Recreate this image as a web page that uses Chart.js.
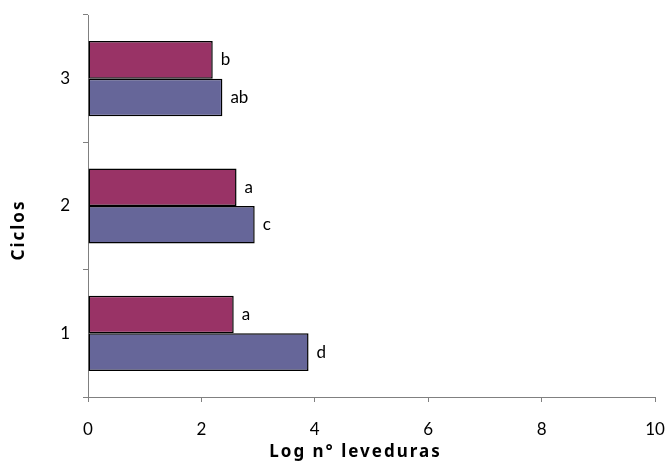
<!DOCTYPE html>
<html>
<head>
<meta charset="utf-8">
<script src="https://cdn.jsdelivr.net/npm/chart.js@4/dist/chart.umd.min.js"></script>
<style>
  html, body { margin: 0; padding: 0; background: #ffffff; }
  #wrap { width: 669px; height: 466px; position: relative; }
</style>
</head>
<body>
<div id="wrap"><canvas id="chart" width="669" height="466"></canvas></div>
<script>
// Cycles (categories) and the log yeast counts for the two treatments
const ciclos = ['1', '2', '3'];
const serieSuperior = [2.57, 2.62, 2.20];   // upper bar of each cycle
const serieInferior = [3.89, 2.94, 2.37];   // lower bar of each cycle
const letrasSuperior = ['a', 'a', 'b'];
const letrasInferior = ['d', 'c', 'ab'];
const xTicks = [0, 2, 4, 6, 8, 10];

const FONT = 'Lato, "Noto Sans", sans-serif';
const TITLE_FONT = '"Noto Sans", Lato, sans-serif';

// Significance letters at the end of each bar, plus spaced axis titles
const barLetters = {
  id: 'barLetters',
  afterDatasetsDraw(chart) {
    const ctx = chart.ctx;
    const letterSets = [letrasSuperior, letrasInferior];
    ctx.save();
    ctx.fillStyle = '#000000';
    ctx.font = '17px ' + FONT;
    ctx.textAlign = 'left';
    ctx.textBaseline = 'middle';
    chart.data.datasets.forEach((ds, di) => {
      const meta = chart.getDatasetMeta(di);
      meta.data.forEach((bar, i) => {
        ctx.fillText(letterSets[di][i], bar.x + 8, bar.y);
      });
    });
    ctx.restore();

    const area = chart.chartArea;
    ctx.save();
    ctx.fillStyle = '#000000';
    ctx.font = 'bold 17px ' + TITLE_FONT;
    ctx.letterSpacing = '2px';
    ctx.textAlign = 'center';
    ctx.textBaseline = 'middle';
    ctx.fillText('Log n° leveduras', (area.left + area.right) / 2 - 16, 452);
    ctx.translate(19, (area.top + area.bottom) / 2 + 24);
    ctx.rotate(-Math.PI / 2);
    ctx.fillText('Ciclos', 0, 0);
    ctx.restore();
  }
};

new Chart(document.getElementById('chart'), {
  type: 'bar',
  data: {
    labels: ciclos,
    datasets: [
      {
        data: serieSuperior,
        backgroundColor: '#993366',
        borderColor: '#000000',
        borderWidth: 1.5,
        borderSkipped: false
      },
      {
        data: serieInferior,
        backgroundColor: '#666699',
        borderColor: '#000000',
        borderWidth: 1.5,
        borderSkipped: false
      }
    ]
  },
  options: {
    indexAxis: 'y',
    responsive: false,
    animation: false,
    devicePixelRatio: 1,
    layout: { padding: { left: 0, top: 15, right: 14, bottom: 0 } },
    datasets: { bar: { categoryPercentage: 0.59, barPercentage: 1 } },
    plugins: {
      legend: { display: false },
      tooltip: { enabled: false }
    },
    scales: {
      x: {
        type: 'linear',
        min: 0,
        max: 10,
        afterBuildTicks(scale) { scale.ticks = xTicks.map(v => ({ value: v })); },
        afterFit(scale) { scale.height = 69; scale.paddingLeft = 0; scale.paddingRight = 0; },
        border: { color: '#808080', width: 1 },
        grid: { drawOnChartArea: false, drawTicks: true, tickLength: 5, color: '#808080' },
        ticks: { color: '#000000', font: { family: FONT, size: 17 }, padding: 17, maxRotation: 0 }
      },
      y: {
        reverse: true,
        afterFit(scale) { scale.width = 88; scale.paddingTop = 0; scale.paddingBottom = 0; },
        border: { color: '#808080', width: 1 },
        grid: { offset: true, drawOnChartArea: false, drawTicks: true, tickLength: 5, color: '#808080' },
        ticks: { color: '#000000', font: { family: FONT, size: 17 }, padding: 13 }
      }
    }
  },
  plugins: [barLetters]
});
</script>
</body>
</html>
